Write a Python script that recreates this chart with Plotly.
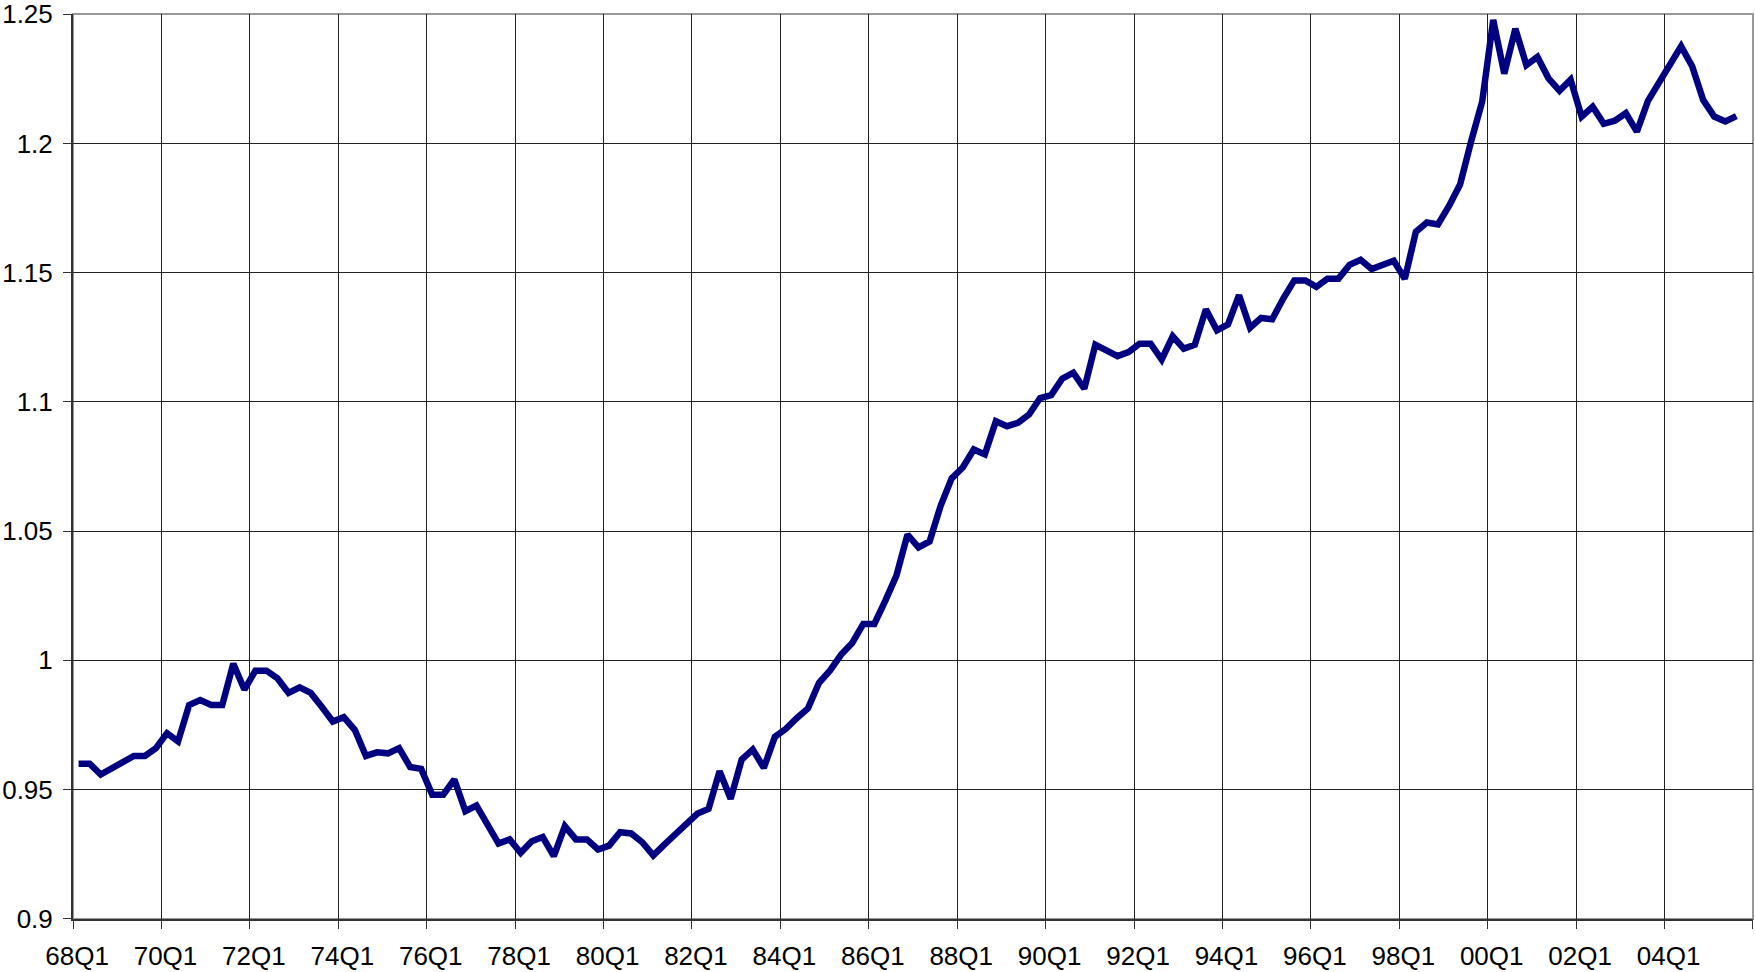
import plotly.graph_objects as go

# Quarter categories 68Q1 .. 05Q3
quarters = [f"{yr % 100:02d}Q{q}" for yr in range(1968, 2006) for q in range(1, 5)][:151]

values = [
    0.960, 0.960, 0.9558, 0.958, 0.9605, 0.963, 0.963, 0.966, 0.9718, 0.9686,
    0.9827, 0.9846, 0.9827, 0.9827, 0.9987, 0.9887, 0.996, 0.996, 0.993, 0.9874,
    0.9895, 0.9874, 0.982, 0.9763, 0.978, 0.973, 0.963, 0.9644, 0.964, 0.966,
    0.9587, 0.958, 0.948, 0.948, 0.9539, 0.9416, 0.9438, 0.9369, 0.9291, 0.9307,
    0.9255, 0.930, 0.9316, 0.9242, 0.9358, 0.9307, 0.9307, 0.9268, 0.9283, 0.9335,
    0.933, 0.9296, 0.9245, 0.9287, 0.9326, 0.9361, 0.9407, 0.9425, 0.9571, 0.9464,
    0.9616, 0.9655, 0.9584, 0.9704, 0.9735, 0.9777, 0.9814, 0.9913, 0.9961, 1.0022,
    1.0067, 1.0141, 1.0141, 1.0231, 1.0328, 1.0486, 1.0437, 1.046, 1.0598, 1.0704,
    1.0746, 1.0816, 1.0797, 1.0925, 1.0906, 1.0919, 1.0951, 1.1015, 1.1026, 1.109,
    1.1113, 1.1051, 1.1221, 1.1199, 1.1177, 1.1193, 1.1225, 1.1225, 1.1164, 1.1254,
    1.1206, 1.1221, 1.1358, 1.1277, 1.130, 1.1413, 1.1287, 1.1325, 1.132, 1.140,
    1.147, 1.147, 1.1445, 1.1477, 1.1477, 1.153, 1.155, 1.1514, 1.1527, 1.1546,
    1.1476, 1.1658, 1.1694, 1.1687, 1.1758, 1.1841, 1.2008, 1.2162, 1.2478, 1.227,
    1.2444, 1.2303, 1.2335, 1.2252, 1.2204, 1.2247, 1.2104, 1.2142, 1.2076, 1.2088,
    1.2117, 1.2046, 1.2165, 1.2232, 1.2299, 1.2376, 1.2299, 1.2168, 1.2104, 1.2085,
    1.2106,
]

x_tick_labels = ["68Q1", "70Q1", "72Q1", "74Q1", "76Q1", "78Q1", "80Q1", "82Q1",
                 "84Q1", "86Q1", "88Q1", "90Q1", "92Q1", "94Q1", "96Q1", "98Q1",
                 "00Q1", "02Q1", "04Q1"]
y_tick_vals = [0.9, 0.95, 1.0, 1.05, 1.1, 1.15, 1.2, 1.25]
y_tick_text = ["0.9", "0.95", "1", "1.05", "1.1", "1.15", "1.2", "1.25"]

FONT = "Liberation Sans, Arial, sans-serif"
N_SLOTS = 152  # category slots on the axis (68Q1 .. 05Q4)

# quarter index of each data point (category position on the axis)
x_pos = list(range(len(quarters)))
# category boundaries every 8 quarters (where gridlines/ticks sit), labels = quarter starting there
boundary_vals = [quarters.index(lbl) - 0.5 for lbl in x_tick_labels] + [N_SLOTS - 0.5]
boundary_text = x_tick_labels + [""]

fig = go.Figure()
fig.add_trace(go.Scatter(
    x=x_pos, y=values, mode="lines",
    line=dict(color="#000080", width=6.5),
    text=quarters, hovertemplate="%{text}: %{y}<extra></extra>",
    showlegend=False,
))

fig.update_layout(
    width=1755, height=972,
    margin=dict(l=73, r=2, t=14, b=53, autoexpand=False),
    paper_bgcolor="white", plot_bgcolor="white",
    font=dict(family=FONT, size=26, color="black"),
    shapes=[dict(type="rect", xref="paper", yref="paper", x0=0, y0=0, x1=1, y1=1,
                 line=dict(color="#999999", width=2), layer="below")],
)

fig.update_xaxes(
    automargin=False,
    range=[-0.505, N_SLOTS - 0.495],
    tickmode="array", tickvals=boundary_vals, ticktext=boundary_text,
    tickangle=0, ticklabelshift=4, ticklabelstandoff=5,
    ticklabeloverflow="allow",
    ticks="outside", ticklen=8, tickcolor="#333333", tickwidth=1,
    showgrid=True, gridcolor="#222222", gridwidth=1,
    showline=True, linecolor="#333333", linewidth=2,
    zeroline=False,
    tickfont=dict(family=FONT, size=26, color="black"),
)
fig.update_yaxes(
    automargin=False,
    range=[0.8999, 1.2501],
    tickmode="array", tickvals=y_tick_vals, ticktext=y_tick_text,
    ticks="outside", ticklen=8, tickcolor="#333333", tickwidth=1,
    ticklabelstandoff=5, ticklabeloverflow="allow",
    showgrid=True, gridcolor="#222222", gridwidth=1,
    showline=True, linecolor="#333333", linewidth=2,
    zeroline=False,
    tickfont=dict(family=FONT, size=26, color="black"),
)

fig.write_html(
    "out.html",
    config={"displayModeBar": False},
    post_script="document.body.style.margin='0';document.body.style.padding='0';"
                "document.documentElement.style.overflow='hidden';",
)
